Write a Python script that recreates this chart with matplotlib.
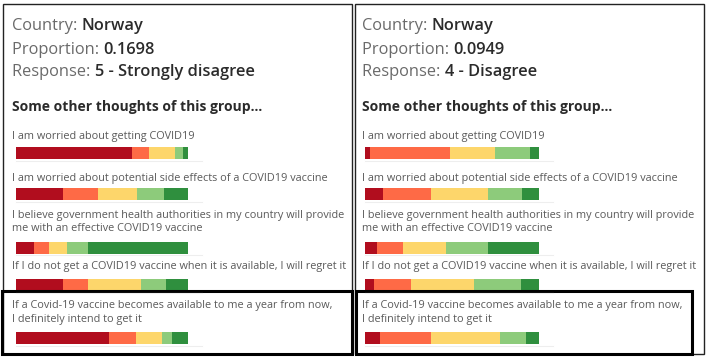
import matplotlib
matplotlib.use("Agg")
import matplotlib.pyplot as plt
from matplotlib.patches import Rectangle
from matplotlib.lines import Line2D
from matplotlib.text import Annotation

W, H = 708, 357
FONT = ["Open Sans", "DejaVu Sans"]

# ---------------- data ----------------
country = "Norway"
proportions = ["0.1698", "0.0949"]
responses = ["5 - Strongly disagree", "4 - Disagree"]
questions = [
    "I am worried about getting COVID19",
    "I am worried about potential side effects of a COVID19 vaccine",
    "I believe government health authorities in my country will provide\nme with an effective COVID19 vaccine",
    "If I do not get a COVID19 vaccine when it is available, I will regret it",
    "If a Covid-19 vaccine becomes available to me a year from now,\nI definitely intend to get it",
]
# share of each answer level (Strongly disagree ... Strongly agree), in %
left_q1 = [67.2, 10.2, 14.9, 4.4, 3.3]
left_q2 = [27.6, 19.9, 22.9, 15.5, 14.1]
left_q3 = [10.4, 8.9, 10.3, 12.2, 58.2]
left_q4 = [27.6, 14.5, 30.4, 14.3, 13.2]
left_q5 = [54.2, 15.3, 15.1, 5.8, 9.6]
right_q1 = [2.7, 46.1, 26.0, 19.9, 5.3]
right_q2 = [10.2, 27.5, 33.0, 19.8, 9.5]
right_q3 = [6.9, 14.8, 24.8, 24.0, 29.5]
right_q4 = [5.0, 21.2, 36.5, 27.1, 10.2]
right_q5 = [8.5, 29.6, 39.8, 15.0, 7.1]
level_colors = ["#b10d1e", "#fe6a46", "#fdd66b", "#8dcb7b", "#2f8f3e"]

panels = [
    dict(text_x=12, bar_x=15.7, bar_w=172.6,
         values=[left_q1, left_q2, left_q3, left_q4, left_q5]),
    dict(text_x=362, bar_x=365.3, bar_w=173.4,
         values=[right_q1, right_q2, right_q3, right_q4, right_q5]),
]

# layout (pixel rows, baseline of the last line of each text)
header_baselines = [30, 54, 76]
heading_baseline = 111
question_baselines = [139.3, 180.7, 231.0, 269.3, 321.7]
bar_tops = [147.3, 188.3, 241.7, 279.3, 332.3]
bar_h = 12

fig = plt.figure(figsize=(W / 100, H / 100), dpi=100)
fig.patch.set_facecolor("white")


def fx(x):
    return x / W


def fy(y):
    return 1 - y / H


def label_value(x, y, label, value):
    t = fig.text(fx(x), fy(y), label, fontsize=11.8, color="#6a6a6a",
                 family=FONT, va="baseline", ha="left")
    fig.add_artist(Annotation(
        value, xy=(1, 0), xycoords=t, fontsize=11.8, color="#2b2b2b",
        fontweight=600, family=FONT, va="bottom", ha="left"))


for p, prop, resp in zip(panels, proportions, responses):
    tx = p["text_x"]
    label_value(tx, header_baselines[0], "Country: ", country)
    label_value(tx, header_baselines[1], "Proportion: ", prop)
    label_value(tx, header_baselines[2], "Response: ", resp)
    fig.text(fx(tx), fy(heading_baseline), "Some other thoughts of this group...",
             fontsize=10.0, fontweight="bold", color="#2b2b2b", family=FONT,
             va="baseline", ha="left")
    for q, qb, bt, vals in zip(questions, question_baselines, bar_tops, p["values"]):
        fig.text(fx(tx), fy(qb), q, fontsize=7.8, color="#5a5a5a",
                 family=FONT, va="baseline", ha="left", linespacing=1.3)
        ax = fig.add_axes([fx(p["bar_x"]), fy(bt + bar_h), fx(p["bar_w"]), bar_h / H])
        left = 0
        for v, c in zip(vals, level_colors):
            ax.barh(0, v, left=left, height=1, color=c, edgecolor="none")
            left += v
        ax.set_xlim(0, 100)
        ax.set_ylim(-0.5, 0.5)
        ax.axis("off")
        # faint separator under each bar
        fig.add_artist(Line2D([fx(p["bar_x"]), fx(p["bar_x"] + p["bar_w"] + 14)],
                              [fy(bt + bar_h + 1.5)] * 2, color="#eeeeee", lw=0.8))

# panel borders
fig.add_artist(Rectangle((fx(2.5), fy(354)), fx(349.5), (354 - 3.5) / H,
                         fill=False, ec="#222222", lw=1.0))
fig.add_artist(Rectangle((fx(355), fy(354)), fx(349), (354 - 3.5) / H,
                         fill=False, ec="#222222", lw=1.0))
# highlight boxes around last question
fig.add_artist(Rectangle((fx(1.6), fy(353.5)), fx(350.4), (353.5 - 291.3) / H,
                         fill=False, ec="black", lw=2.2))
fig.add_artist(Rectangle((fx(355.6), fy(353.5)), fx(336.7), (353.5 - 291.3) / H,
                         fill=False, ec="black", lw=2.2))

fig.savefig("out.png", dpi=100)
